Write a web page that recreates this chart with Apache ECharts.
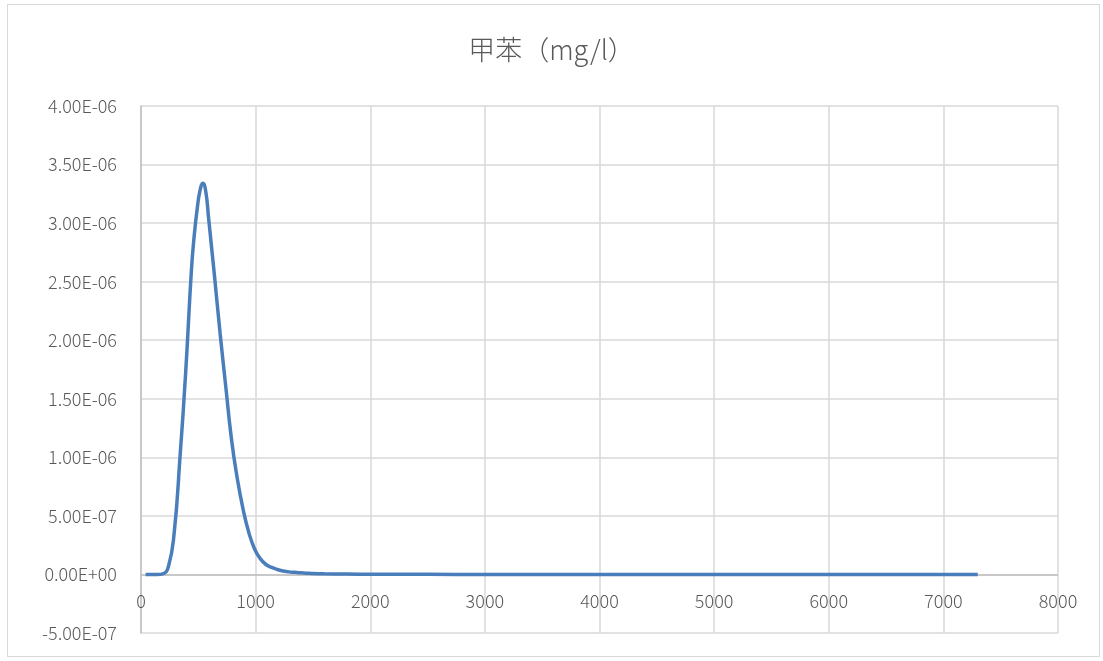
<!DOCTYPE html>
<html>
<head>
<meta charset="utf-8">
<script src="https://cdn.jsdelivr.net/npm/echarts@6/dist/echarts.min.js"></script>
<style>
  html, body { margin: 0; padding: 0; background: #ffffff; }
  #frame {
    position: absolute; left: 7px; top: 4px; width: 1093px; height: 653px;
    border: 1px solid #d9d9d9; box-sizing: border-box;
  }
  #chart { position: absolute; left: 0; top: 0; width: 1103px; height: 661px; }
</style>
</head>
<body>
<div id="frame"></div>
<div id="chart"></div>
<script>
// Toluene concentration (mg/l) against time
const chartTitle = '甲苯（mg/l）';
const timeValues = [40, 90, 140, 190, 240, 290, 340, 390, 440, 465, 490, 515, 540, 565, 590, 615, 640, 690, 740, 790, 840, 890, 940, 990, 1040, 1090, 1140, 1190, 1240, 1290, 1340, 1390, 1440, 1490, 1600, 1800, 2000, 2500, 3000, 4000, 5000, 6000, 7000, 7300];
const concValues = [0, 0, 0, 5e-9, 7e-8, 3.6e-7, 1.0e-6, 1.73e-6, 2.6e-6, 2.9e-6, 3.12e-6, 3.28e-6, 3.34e-6, 3.27e-6, 3.04e-6, 2.8e-6, 2.56e-6, 2.06e-6, 1.6e-6, 1.15e-6, 8.2e-7, 5.6e-7, 3.6e-7, 2.2e-7, 1.35e-7, 8.5e-8, 6e-8, 4.2e-8, 3e-8, 2.2e-8, 1.8e-8, 1.4e-8, 1.1e-8, 8e-9, 5e-9, 3e-9, 2e-9, 1e-9, 0, 0, 0, 0, 0, 0];

const yMin = -5e-7, yMax = 4e-6, yStep = 5e-7;
const xMin = 0, xMax = 8000, xStep = 1000;

const seriesData = timeValues.map((t, i) => [t, concValues[i]]);

function sciLabel(v) {
  if (Math.abs(v) < 1e-15) return '0.00E+00';
  const exp = Math.floor(Math.log10(Math.abs(v)) + 1e-9);
  const mant = v / Math.pow(10, exp);
  const sign = exp < 0 ? '-' : '+';
  const e = String(Math.abs(exp)).padStart(2, '0');
  return mant.toFixed(2) + 'E' + sign + e;
}

const textColor = '#595959';
const fontFamily = '"Noto Sans CJK SC", "Noto Sans", sans-serif';
const lineBlue = '#4a7ebb';

const chart = echarts.init(document.getElementById('chart'));
chart.setOption({
  animation: false,
  title: {
    text: chartTitle,
    left: 'center',
    top: 31,
    textStyle: { color: textColor, fontSize: 27, fontWeight: 300, fontFamily: fontFamily }
  },
  grid: { left: 141, right: 45, top: 106, bottom: 28, containLabel: false, outerBoundsMode: 'none' },
  xAxis: {
    type: 'value',
    min: xMin, max: xMax, interval: xStep,
    axisLine: { show: false, onZero: false },
    axisTick: { show: false },
    axisLabel: {
      color: textColor, fontSize: 18, fontFamily: fontFamily, fontWeight: 300,
      margin: -41, formatter: (v) => String(v)
    },
    splitLine: { show: true, lineStyle: { color: '#d9d9d9', width: 1.5 } }
  },
  yAxis: {
    type: 'value',
    min: yMin, max: yMax, interval: yStep,
    axisLine: { show: true, lineStyle: { color: '#bfbfbf', width: 1.5 } },
    axisTick: { show: false },
    axisLabel: { color: textColor, fontSize: 18, fontFamily: fontFamily, fontWeight: 300, margin: 24, formatter: sciLabel },
    splitLine: { show: true, lineStyle: { color: '#d9d9d9', width: 1.5 } }
  },
  series: [{
    type: 'line',
    data: seriesData,
    showSymbol: false,
    smooth: 0.5,
    lineStyle: { color: lineBlue, width: 3.5 },
    itemStyle: { color: lineBlue },
    z: 3,
    markLine: {
      silent: true,
      symbol: 'none',
      label: { show: false },
      lineStyle: { color: '#bfbfbf', width: 1.5, type: 'solid' },
      data: [{ yAxis: 0 }],
      z: 1
    }
  }]
});
</script>
</body>
</html>
